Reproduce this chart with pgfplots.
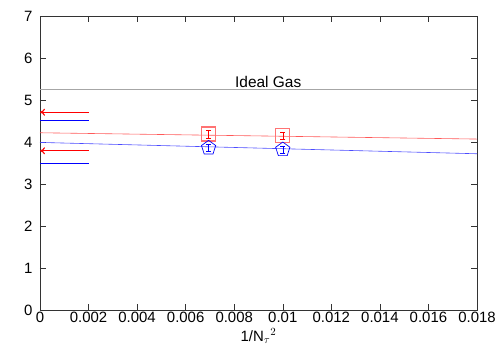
\documentclass[border=0pt]{standalone}
\usepackage{pgfplots}
\pgfplotsset{compat=1.18}
\usepackage{fontspec}
\setmainfont{Liberation Sans}
\usetikzlibrary{arrows.meta}
\begin{document}
\begin{tikzpicture}[x=1bp,y=1bp]
\path[use as bounding box] (-40bp,-40bp) rectangle (460bp,310bp);
\begin{axis}[
  scale only axis, width=437bp, height=294bp,
  xmin=0, xmax=0.018, ymin=0, ymax=7,
  scaled x ticks=false,
  xtick={0,0.002,...,0.018},
  xticklabels={0,0.002,0.004,0.006,0.008,0.01,0.012,0.014,0.016,0.018},
  ytick={0,1,...,7},
  tick align=inside, major tick length=6bp,
  tick style={black!80, line width=0.5pt},
  axis line style={black!80, line width=0.6pt},
  tick label style={font=\fontsize{15}{17}\selectfont},
  xticklabel style={yshift=1bp},
  yticklabel style={xshift=-4bp},
  /pgf/number format/assume math mode=true,
  xlabel={1/N$_\tau$$^{2}$},
  xlabel style={font=\fontsize{15}{17}\selectfont, yshift=1bp},
  clip=false,
]
% ideal gas
\addplot[gray!70, line width=0.8pt] coordinates {(0,5.25) (0.018,5.25)};
\node[anchor=south, font=\fontsize{15.5}{17}\selectfont, inner sep=2bp] at (axis cs:0.0094,5.25) {Ideal Gas};
% fit lines
\addplot[red!65, line width=0.6pt] coordinates {(0,4.22) (0.018,4.07)};
\addplot[blue!70, line width=0.6pt] coordinates {(0,3.99) (0.018,3.72)};
% continuum estimates
\addplot[red, line width=1.1pt, -{To[length=5bp,width=7bp]}] coordinates {(0.002,4.71) (0,4.71)};
\addplot[red, line width=1.1pt, -{To[length=5bp,width=7bp]}] coordinates {(0.002,3.79) (0,3.79)};
\addplot[blue, line width=1.1pt] coordinates {(0,4.52) (0.002,4.52)};
\addplot[blue, line width=1.1pt] coordinates {(0,3.48) (0.002,3.48)};
% data points
\addplot[red!55, only marks, mark=square, mark size=7bp, mark options={line width=1.1pt},
  error bars/.cd, y dir=both, y explicit, error bar style={red, line width=0.5pt}, error mark options={rotate=90, mark size=2.5bp, red}]
  coordinates {(0.006944,4.19) +- (0,0.09) (0.01,4.15) +- (0,0.08)};
\addplot[blue, only marks, mark=pentagon, mark size=7.5bp, mark options={line width=0.7pt},
  error bars/.cd, y dir=both, y explicit, error bar style={blue, line width=0.5pt}, error mark options={rotate=90, mark size=2.5bp, blue}]
  coordinates {(0.006944,3.86) +- (0,0.09) (0.01,3.82) +- (0,0.08)};
\end{axis}
\end{tikzpicture}
\end{document}
